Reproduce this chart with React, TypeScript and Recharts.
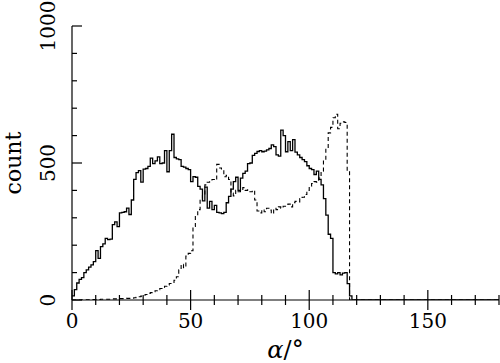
import React from 'react';
import { LineChart, Line, XAxis, YAxis, Label } from 'recharts';

// histogram bins are 1 degree wide, starting at 0
const BIN_WIDTH = 1;

const SOLID_COUNTS = [
  15, 38, 62, 75, 82, 100, 110, 120, 128, 140, 180, 152, 195, 205, 225, 220, 222, 275, 285, 268,
  318, 320, 322, 335, 312, 365, 440, 465, 472, 430, 478, 480, 488, 518, 498, 508, 522, 498, 500, 545,
  468, 545, 605, 520, 515, 512, 488, 485, 480, 476, 432, 450, 448, 415, 405, 362, 412, 335, 360, 330,
  345, 320, 318, 315, 320, 355, 378, 405, 432, 448, 400, 445, 462, 470, 498, 500, 528, 535, 542, 545,
  541, 543, 548, 553, 566, 560, 530, 525, 620, 600, 541, 578, 545, 585, 540, 530, 520, 512, 505, 490,
  480, 476, 458, 470, 440, 420, 370, 310, 240, 225, 100, 95, 100, 92, 98, 100, 60, 15, 0, 0,
  0, 0, 0, 0, 0, 0, 0, 0, 0, 0, 0, 0, 0, 0, 0, 0, 0, 0, 0, 0,
  0, 0, 0, 0, 0, 0, 0, 0, 0, 0, 0, 0, 0, 0, 0, 0, 0, 0, 0, 0,
  0, 0, 0, 0, 0, 0, 0, 0, 0, 0, 0, 0, 0, 0, 0, 0, 0, 0, 0, 0,
  0,
];

const DASHED_COUNTS = [
  0, 0, 0, 0, 1, 1, 1, 1, 2, 2, 2, 2, 3, 3, 3, 3, 3, 4, 4, 4,
  5, 5, 5, 6, 6, 6, 8, 10, 12, 14, 18, 20, 24, 27, 30, 34, 38, 42, 46, 50,
  55, 60, 62, 72, 85, 110, 130, 118, 160, 170, 180, 268, 305, 330, 370, 385, 420, 430, 438, 440,
  438, 495, 482, 478, 450, 455, 440, 390, 380, 400, 395, 400, 410, 400, 402, 395, 400, 365, 325, 318,
  330, 322, 335, 328, 315, 335, 330, 340, 335, 342, 345, 350, 340, 355, 360, 358, 370, 375, 385, 400,
  415, 425, 432, 430, 445, 470, 510, 550, 610, 630, 665, 678, 625, 645, 650, 648, 472, 0, 0, 0,
  0, 0, 0, 0, 0, 0, 0, 0, 0, 0, 0, 0, 0, 0, 0, 0, 0, 0, 0, 0,
  0, 0, 0, 0, 0, 0, 0, 0, 0, 0, 0, 0, 0, 0, 0, 0, 0, 0, 0, 0,
  0, 0, 0, 0, 0, 0, 0, 0, 0, 0, 0, 0, 0, 0, 0, 0, 0, 0, 0, 0,
  0,
];

const X_TICKS = [0, 10, 20, 30, 40, 50, 60, 70, 80, 90, 100, 110, 120, 130, 140, 150, 160, 170, 180];
const X_LABELS = [0, 50, 100, 150];
const Y_TICKS = [0, 100, 200, 300, 400, 500, 600, 700, 800, 900, 1000];
const Y_LABELS = [0, 500, 1000];

const data = SOLID_COUNTS.map((v, i) => ({
  angle: i * BIN_WIDTH,
  solid: v,
  dashed: DASHED_COUNTS[i],
}));

const FONT = 'DejaVu Serif';
const INK = '#000';

const BottomTick = (props: any) => {
  const { x, y, payload } = props;
  const len = payload.value % 50 === 0 ? 10 : 5;
  return (
    <g>
      <line x1={x} x2={x} y1={y - len} y2={y + len} stroke={INK} strokeWidth={1.2} />
      {X_LABELS.includes(payload.value) && (
        <text x={x} y={y + 28} textAnchor="middle" fontSize={20} fontFamily={FONT} fill={INK}>
          {payload.value}
        </text>
      )}
    </g>
  );
};

const TopTick = (props: any) => {
  const { x, y, payload } = props;
  const len = payload.value % 50 === 0 ? 10 : 5;
  return <line x1={x} x2={x} y1={y} y2={y + len} stroke={INK} strokeWidth={1.2} />;
};

const LeftTick = (props: any) => {
  const { x, y, payload } = props;
  const len = payload.value % 500 === 0 ? 10 : 5;
  return (
    <g>
      <line x1={x} x2={x + len} y1={y} y2={y} stroke={INK} strokeWidth={1.2} />
      {Y_LABELS.includes(payload.value) && (
        <text
          x={x - 17}
          y={y}
          transform={`rotate(-90, ${x - 17}, ${y})`}
          textAnchor="middle"
          fontSize={20}
          fontFamily={FONT}
          fill={INK}
        >
          {payload.value}
        </text>
      )}
    </g>
  );
};

const RightTick = (props: any) => {
  const { x, y, payload } = props;
  const len = payload.value % 500 === 0 ? 10 : 5;
  return <line x1={x - len} x2={x} y1={y} y2={y} stroke={INK} strokeWidth={1.2} />;
};

const AngleLabel = (props: any) => {
  const vb = props.viewBox;
  return (
    <text x={vb.x + vb.width / 2} y={vb.y + 58} textAnchor="middle" fontSize={24} fontFamily={FONT} fill={INK}>
      <tspan fontStyle="italic">α</tspan>/°
    </text>
  );
};

const CountLabel = (props: any) => {
  const vb = props.viewBox;
  const cx = vb.x + 21;
  const cy = vb.y + vb.height / 2;
  return (
    <text x={cx} y={cy} transform={`rotate(-90, ${cx}, ${cy})`} textAnchor="middle" fontSize={22} fontFamily={FONT} fill={INK}>
      count
    </text>
  );
};

export default function App() {
  return (
    <div style={{ position: 'absolute', left: 0, top: 0, width: 500, height: 363, background: '#fff' }}>
      <LineChart width={500} height={363} data={data} margin={{ top: 26, right: 1, bottom: 0, left: 0 }}>
        <XAxis
          dataKey="angle"
          type="number"
          domain={[0, 180]}
          ticks={X_TICKS}
          interval={0}
          height={63}
          tickSize={0}
          tickMargin={0}
          tickLine={false}
          tick={<BottomTick />}
          axisLine={{ stroke: INK, strokeWidth: 1.2 }}
          allowDataOverflow
          label={<Label content={<AngleLabel />} />}
        />
        <XAxis
          xAxisId="top"
          orientation="top"
          dataKey="angle"
          type="number"
          domain={[0, 180]}
          ticks={X_TICKS}
          interval={0}
          height={0}
          tickSize={0}
          tickMargin={0}
          tickLine={false}
          tick={<TopTick />}
          axisLine={{ stroke: INK, strokeWidth: 1.2 }}
          allowDataOverflow
        />
        <YAxis
          type="number"
          domain={[0, 1000]}
          ticks={Y_TICKS}
          interval={0}
          width={72}
          tickSize={0}
          tickMargin={0}
          tickLine={false}
          tick={<LeftTick />}
          axisLine={{ stroke: INK, strokeWidth: 1.2 }}
          allowDataOverflow
          label={<Label content={<CountLabel />} />}
        />
        <YAxis
          yAxisId="right"
          orientation="right"
          type="number"
          domain={[0, 1000]}
          ticks={Y_TICKS}
          interval={0}
          width={0}
          tickSize={0}
          tickMargin={0}
          tickLine={false}
          tick={<RightTick />}
          axisLine={{ stroke: INK, strokeWidth: 1.2 }}
          allowDataOverflow
        />
        <Line
          type="stepAfter"
          dataKey="dashed"
          stroke={INK}
          strokeWidth={1.1}
          strokeDasharray="4 3"
          dot={false}
          activeDot={false}
          isAnimationActive={false}
        />
        <Line
          type="stepAfter"
          dataKey="solid"
          stroke={INK}
          strokeWidth={1.3}
          dot={false}
          activeDot={false}
          isAnimationActive={false}
        />
      </LineChart>
    </div>
  );
}
